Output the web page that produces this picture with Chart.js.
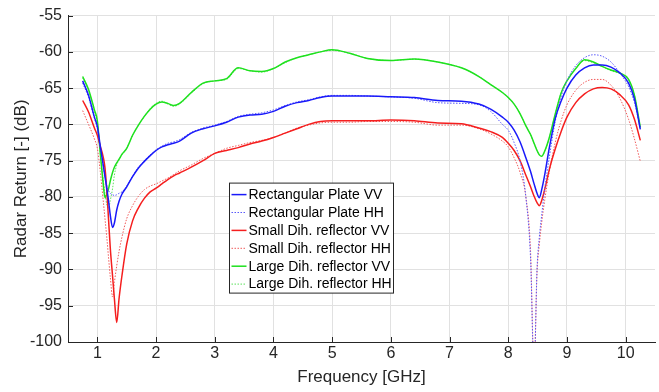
<!DOCTYPE html>
<html lang="en">
<head>
    <meta charset="UTF-8" />
    <title>Radar Return vs Frequency</title>
    <script src="https://cdn.jsdelivr.net/npm/chart.js"></script>
    <style>
        body { margin: 0; background: #fff; }
        #wrap { position: relative; width: 659px; height: 392px; }
    </style>
</head>
<body>
    <div id="wrap"><canvas id="radarChart"></canvas></div>

    <script>
        // frequency grid [GHz], denser around the two nulls
        const freq = [
            0.75, 0.85, 0.95, 1.0, 1.05, 1.1, 1.13, 1.16, 1.19, 1.22,
            1.26, 1.29, 1.33, 1.37, 1.42, 1.5, 1.6, 1.7, 1.8, 1.9,
            2.0, 2.1, 2.2, 2.3, 2.4, 2.6, 2.8, 3.0, 3.2, 3.4,
            3.6, 3.8, 4.0, 4.2, 4.4, 4.6, 4.8, 5.0, 5.3, 5.6,
            6.0, 6.4, 6.8, 7.2, 7.5, 7.7, 7.9, 8.0, 8.1, 8.2,
            8.3, 8.38, 8.44, 8.49, 8.53, 8.57, 8.62, 8.7, 8.8, 8.9,
            9.0, 9.15, 9.3, 9.45, 9.6, 9.75, 9.9, 10.05, 10.15, 10.25
        ];

        // radar return [dB]
        const rectPlateVV = [
            -64.0, -66.0, -69.0, -70.3, -73.0, -75.6, -77.2, -78.8, -80.5, -82.5,
            -84.2, -83.6, -81.8, -80.6, -79.6, -78.6, -77.2, -76.0, -75.1, -74.3,
            -73.6, -73.1, -72.8, -72.6, -72.3, -71.2, -70.6, -70.2, -69.7, -69.0,
            -68.7, -68.6, -68.2, -67.5, -67.0, -66.7, -66.3, -66.1, -66.1, -66.1,
            -66.2, -66.3, -66.7, -66.8, -67.2, -67.9, -69.0, -69.7, -70.8, -72.4,
            -74.6, -76.5, -78.2, -79.5, -80.1, -79.0, -77.0, -73.2, -69.2, -66.8,
            -65.0, -63.2, -62.2, -61.8, -61.8, -62.1, -62.9, -64.3, -66.5, -70.7
        ];
        const rectPlateHH = [
            -64.3, -66.3, -69.2, -70.6, -73.2, -75.8, -77.2, -78.4, -79.1, -79.5,
            -79.7, -79.8, -79.7, -79.5, -79.3, -78.5, -77.1, -75.9, -75.0, -74.2,
            -73.5, -73.0, -72.6, -72.4, -72.1, -71.1, -70.5, -70.1, -69.6, -68.9,
            -68.6, -68.4, -68.0, -67.4, -66.9, -66.6, -66.2, -66.0, -66.0, -66.1,
            -66.2, -66.4, -67.0, -67.1, -67.3, -68.2, -70.0, -70.8, -72.5, -75.0,
            -80.0, -88.5, -104.0, -90.0, -85.5, -82.5, -79.0, -74.5, -69.6, -66.2,
            -64.0, -61.9, -60.8, -60.4, -60.6, -61.4, -62.9, -64.8, -67.0, -70.5
        ];
        const smallDihVV = [
            -66.7, -68.3, -70.5, -71.5, -73.0, -74.5, -76.0, -79.0, -83.0, -87.0,
            -91.0, -94.0, -97.3, -94.0, -90.8, -86.5, -83.3, -81.5, -80.2, -79.3,
            -78.8, -78.2, -77.6, -77.1, -76.7, -75.9, -75.0, -74.0, -73.6, -73.2,
            -72.7, -72.3, -71.8, -71.2, -70.6, -70.0, -69.6, -69.5, -69.5, -69.5,
            -69.4, -69.5, -69.8, -69.9, -70.5, -71.0, -71.8, -72.6, -73.6, -75.0,
            -77.0, -78.6, -79.9, -80.8, -81.2, -80.5, -79.0, -76.2, -73.4, -71.0,
            -69.0, -67.0, -65.8, -65.1, -64.9, -65.1, -65.9, -67.3, -69.3, -72.2
        ];
        const smallDihHH = [
            -68.1, -70.0, -72.0, -73.3, -76.5, -80.5, -83.0, -85.5, -88.3, -91.0,
            -93.8, -91.8, -89.5, -87.5, -85.5, -83.0, -81.2, -79.9, -79.0, -78.5,
            -78.2, -77.8, -77.4, -76.9, -76.4, -75.6, -74.7, -74.0, -73.3, -72.9,
            -72.5, -72.2, -71.8, -71.2, -70.5, -70.1, -69.8, -69.7, -69.7, -69.6,
            -69.6, -69.7, -70.1, -70.1, -70.6, -71.3, -72.3, -73.1, -74.6, -76.6,
            -80.0, -87.5, -104.0, -90.5, -86.5, -83.5, -80.5, -76.5, -72.5, -69.5,
            -67.3, -65.3, -64.2, -63.8, -63.8, -64.6, -66.4, -69.3, -72.0, -75.1
        ];
        const largeDihVV = [
            -63.4, -65.2, -68.0, -69.5, -74.0, -78.2, -80.1, -79.6, -78.9, -77.8,
            -76.6, -75.9, -75.3, -74.8, -74.1, -73.3, -71.5, -70.1, -68.9, -67.9,
            -67.2, -66.9, -67.1, -67.4, -67.1, -65.6, -64.3, -64.0, -63.7, -62.2,
            -62.6, -62.7, -62.3, -61.4, -60.8, -60.4, -60.0, -59.7, -60.2, -60.9,
            -61.2, -61.0, -61.4, -62.2, -63.4, -64.5, -65.6, -66.3, -67.2, -68.5,
            -70.2, -71.4, -72.6, -73.6, -74.2, -74.4, -73.7, -71.8, -68.6, -65.7,
            -64.0, -62.3, -61.1, -61.4, -62.0, -62.5, -62.9, -63.8, -66.0, -70.4
        ];
        const largeDihHH = [
            -63.6, -65.3, -68.2, -69.9, -74.0, -77.6, -79.5, -81.0, -81.6, -80.5,
            -78.8, -77.0, -75.6, -74.9, -74.2, -73.3, -71.5, -70.1, -68.9, -67.8,
            -67.1, -66.8, -67.2, -67.5, -67.2, -65.7, -64.4, -64.0, -63.8, -62.3,
            -62.6, -62.8, -62.3, -61.5, -60.8, -60.4, -60.0, -59.8, -60.2, -60.9,
            -61.2, -61.0, -61.4, -62.2, -63.4, -64.5, -65.6, -66.3, -67.2, -68.5,
            -70.2, -71.4, -72.6, -73.6, -74.2, -74.4, -73.7, -71.8, -68.6, -65.7,
            -64.0, -62.3, -61.2, -61.5, -62.0, -62.6, -63.0, -63.9, -66.0, -70.5
        ];

        const xTicks = [1, 2, 3, 4, 5, 6, 7, 8, 9, 10];

        const FONT = '"Liberation Sans", Arial, sans-serif';
        const AXIS_COLOR = '#262626';
        const GRID_COLOR = '#e1e1e1';

        const series = [
            { label: 'Rectangular Plate VV', values: rectPlateVV, color: 'rgb(25,25,250)', dash: [], width: 1.5 },
            { label: 'Rectangular Plate HH', values: rectPlateHH, color: 'rgb(90,90,250)', dash: [1.5, 1.5], width: 1 },
            { label: 'Small Dih. reflector VV', values: smallDihVV, color: 'rgb(245,30,30)', dash: [], width: 1.5 },
            { label: 'Small Dih. reflector HH', values: smallDihHH, color: 'rgb(240,90,90)', dash: [1.5, 1.5], width: 1 },
            { label: 'Large Dih. reflector VV', values: largeDihVV, color: 'rgb(30,225,30)', dash: [], width: 1.5 },
            { label: 'Large Dih. reflector HH', values: largeDihHH, color: 'rgb(90,225,90)', dash: [1.5, 1.5], width: 1 }
        ];

        // small inward tick marks, matlab style
        const inwardTicks = {
            id: 'inwardTicks',
            afterDatasetsDraw(chart) {
                const { ctx, chartArea, scales } = chart;
                ctx.save();
                ctx.strokeStyle = AXIS_COLOR;
                ctx.lineWidth = 1;
                ctx.beginPath();
                scales.x.ticks.forEach(t => {
                    const px = Math.round(scales.x.getPixelForValue(t.value)) + 0.5;
                    ctx.moveTo(px, chartArea.bottom);
                    ctx.lineTo(px, chartArea.bottom - 5);
                });
                scales.y.ticks.forEach(t => {
                    const py = Math.round(scales.y.getPixelForValue(t.value)) + 0.5;
                    ctx.moveTo(chartArea.left, py);
                    ctx.lineTo(chartArea.left + 5, py);
                });
                ctx.stroke();
                ctx.restore();
            }
        };

        // boxed legend sitting inside the plot
        const boxLegend = {
            id: 'boxLegend',
            afterDraw(chart) {
                const { ctx, chartArea } = chart;
                const x0 = chartArea.left + 161.5;
                const y0 = chartArea.top + 167.5;
                const w = 164, h = 110, rowH = 17.9;
                ctx.save();
                ctx.fillStyle = '#fff';
                ctx.fillRect(x0, y0, w, h);
                ctx.strokeStyle = AXIS_COLOR;
                ctx.lineWidth = 1;
                ctx.strokeRect(x0, y0, w, h);
                ctx.font = '14px ' + FONT;
                ctx.textBaseline = 'middle';
                chart.data.datasets.forEach((ds, i) => {
                    const y = y0 + 11.5 + i * rowH;
                    ctx.strokeStyle = ds.borderColor;
                    ctx.lineWidth = ds.borderWidth;
                    ctx.setLineDash(ds.borderDash);
                    ctx.beginPath();
                    ctx.moveTo(x0 + 2, y);
                    ctx.lineTo(x0 + 17, y);
                    ctx.stroke();
                    ctx.setLineDash([]);
                    ctx.fillStyle = '#000';
                    ctx.fillText(ds.label, x0 + 19, y + 0.5);
                });
                ctx.restore();
            }
        };

        const ctx = document.getElementById('radarChart').getContext('2d');
        const radarChart = new Chart(ctx, {
            type: 'line',
            data: {
                datasets: series.map(s => ({
                    label: s.label,
                    data: freq.map((f, i) => ({ x: f, y: s.values[i] })),
                    borderColor: s.color,
                    backgroundColor: s.color,
                    borderWidth: s.width,
                    borderDash: s.dash,
                    pointRadius: 0,
                    fill: false,
                    cubicInterpolationMode: 'monotone'
                }))
            },
            options: {
                responsive: true,
                maintainAspectRatio: false,
                animation: false,
                layout: { autoPadding: false, padding: { left: 0, top: 10, right: 4, bottom: 0 } },
                plugins: {
                    legend: { display: false },
                    tooltip: { enabled: false }
                },
                scales: {
                    x: {
                        type: 'linear',
                        min: 0.5,
                        max: 10.5,
                        afterBuildTicks: scale => { scale.ticks = xTicks.map(v => ({ value: v })); },
                        afterFit: scale => { scale.height = 50; },
                        ticks: {
                            color: AXIS_COLOR,
                            font: { family: FONT, size: 16 },
                            padding: 2,
                            maxRotation: 0
                        },
                        grid: { color: GRID_COLOR, drawTicks: false },
                        border: { color: AXIS_COLOR, width: 1 },
                        title: {
                            display: true,
                            text: 'Frequency [GHz]',
                            color: AXIS_COLOR,
                            font: { family: FONT, size: 17 },
                            padding: { top: 0, bottom: 4 }
                        }
                    },
                    y: {
                        min: -100,
                        max: -55,
                        afterFit: scale => { scale.width = 68; },
                        ticks: {
                            stepSize: 5,
                            color: AXIS_COLOR,
                            font: { family: FONT, size: 16 },
                            padding: 6
                        },
                        grid: { color: GRID_COLOR, drawTicks: false },
                        border: { color: AXIS_COLOR, width: 1 },
                        title: {
                            display: true,
                            text: 'Radar Return [-] (dB)',
                            color: AXIS_COLOR,
                            font: { family: FONT, size: 17 },
                            padding: { top: 11, bottom: 0 }
                        }
                    }
                }
            },
            plugins: [inwardTicks, boxLegend]
        });
    </script>
</body>
</html>
